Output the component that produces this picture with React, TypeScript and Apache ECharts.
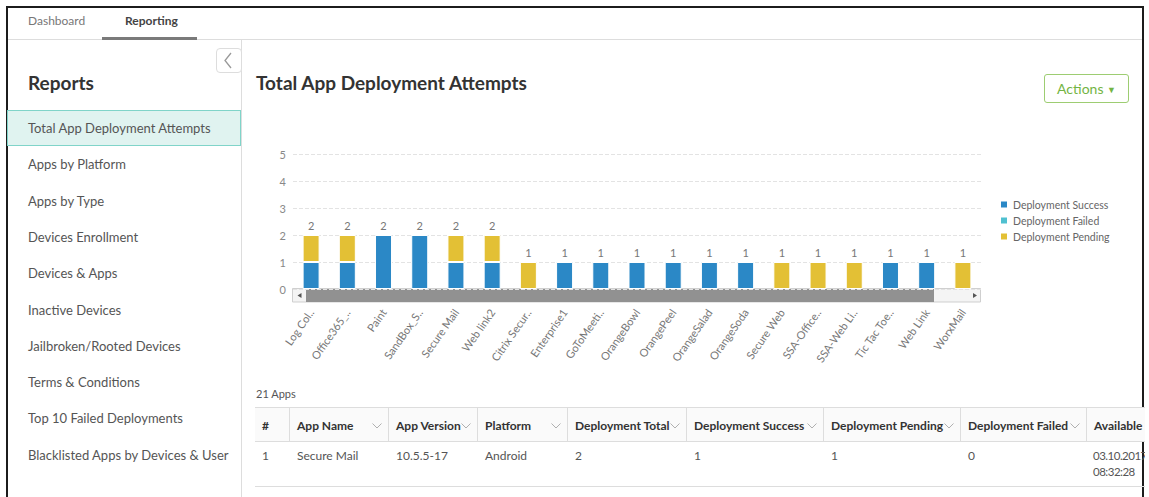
import React, { useEffect, useRef } from "react";
import * as echarts from "echarts";

// ---- chart data ----
const categories = [
  "Log Col..", "Office365_..", "Paint", "SandBox_S..", "Secure Mail", "Web link2",
  "Citrix Secur..", "Enterprise1", "GoToMeeti..", "OrangeBowl", "OrangePeel",
  "OrangeSalad", "OrangeSoda", "Secure Web", "SSA-Office..", "SSA-Web Li..",
  "Tic Tac Toe..", "Web Link", "WorxMail",
];
const successValues = [1, 1, 2, 2, 1, 1, 0, 1, 1, 1, 1, 1, 1, 0, 0, 0, 1, 1, 0];
const failedValues = [0, 0, 0, 0, 0, 0, 0, 0, 0, 0, 0, 0, 0, 0, 0, 0, 0, 0, 0];
const pendingValues = [1, 1, 0, 0, 1, 1, 1, 0, 0, 0, 0, 0, 0, 1, 1, 1, 0, 0, 1];
const seriesNames = ["Deployment Success", "Deployment Failed", "Deployment Pending"];
const yMin = 0;
const yMax = 5;
const yInterval = 1;

// ---- page UI content ----
const tabs = ["Dashboard", "Reporting"];
const reportItems = [
  "Total App Deployment Attempts", "Apps by Platform", "Apps by Type", "Devices Enrollment",
  "Devices & Apps", "Inactive Devices", "Jailbroken/Rooted Devices", "Terms & Conditions",
  "Top 10 Failed Deployments", "Blacklisted Apps by Devices & User",
];
const tableHeaders = ["#", "App Name", "App Version", "Platform", "Deployment Total",
  "Deployment Success", "Deployment Pending", "Deployment Failed", "Available"];
const tableRow1 = ["1", "Secure Mail", "10.5.5-17", "Android", "2", "1", "1", "0", "03.10.2017 08:32:28"];
const colEdges = [255, 289, 388, 477, 567, 686, 823, 960, 1086, 1260];
const appCount = "21 Apps";

const FONT = "Lato, 'Open Sans', sans-serif";

const COLORS = ["#2b88c6", "#4fc0d0", "#e3c035"];

function Chart() {
  const ref = useRef<HTMLDivElement>(null);
  useEffect(() => {
    const chart = echarts.init(ref.current!, null, { renderer: "svg" });
    const toData = (arr: number[]) => arr.map((v) => (v === 0 ? "-" : v));
    const totals = categories.map((_, i) => successValues[i] + failedValues[i] + pendingValues[i]);
    const makeSeries = (name: string, vals: number[], color: string) => ({
      name,
      type: "bar",
      stack: "total",
      barWidth: 17,
      data: toData(vals),
      itemStyle: { color, borderColor: "#ffffff", borderWidth: 1 },
    });
    chart.setOption({
      animation: false,
      textStyle: { fontFamily: FONT },
      grid: { left: 51, top: 44, width: 688, height: 135 },
      legend: {
        orient: "vertical",
        left: 752,
        top: 83,
        data: seriesNames,
        icon: "rect",
        itemWidth: 8,
        itemHeight: 8,
        itemGap: 3,
        textStyle: { color: "#666", fontSize: 10.5, fontFamily: FONT, lineHeight: 13 },
      },
      xAxis: {
        type: "category",
        data: categories,
        axisLine: { show: false },
        axisTick: { show: false },
        axisLabel: { interval: 0, rotate: 55, margin: 21, color: "#777", fontSize: 11, fontFamily: FONT },
      },
      yAxis: {
        type: "value",
        min: yMin,
        max: yMax,
        interval: yInterval,
        axisLine: { show: false },
        axisTick: { show: false },
        axisLabel: { color: "#888", fontSize: 11, margin: 7, fontFamily: FONT },
        splitLine: { lineStyle: { type: "dashed", color: "#e3e3e3" } },
      },
      series: [
        makeSeries(seriesNames[0], successValues, COLORS[0]),
        makeSeries(seriesNames[1], failedValues, COLORS[1]),
        makeSeries(seriesNames[2], pendingValues, COLORS[2]),
        {
          name: "Total",
          type: "bar",
          stack: "total",
          barWidth: 17,
          data: categories.map(() => 0),
          itemStyle: { color: "rgba(0,0,0,0)" },
          label: {
            show: true,
            position: "top",
            distance: 4,
            color: "#777",
            fontSize: 11,
            fontFamily: FONT,
            formatter: (p: any) => String(totals[p.dataIndex]),
          },
        },
      ],
      graphic: [
        {
          type: "group",
          children: [
            { type: "rect", shape: { x: 50.5, y: 178.5, width: 688, height: 13.5 }, style: { fill: "#f4f4f4", stroke: "#cfcfcf", lineWidth: 1 } },
            { type: "rect", shape: { x: 64, y: 179, width: 628, height: 13 }, style: { fill: "#919191" } },
            { type: "polygon", shape: { points: [[55.5, 185.5], [59.5, 183], [59.5, 188]] }, style: { fill: "#555" } },
            { type: "polygon", shape: { points: [[735, 185.5], [731, 183], [731, 188]] }, style: { fill: "#555" } },
          ],
        },
      ],
    });
    return () => chart.dispose();
  }, []);
  return <div ref={ref} style={{ position: "absolute", left: 242, top: 110, width: 901, height: 272 }} />;
}

export default function App() {
  useEffect(() => {
    document.body.style.margin = "0";
  }, []);
  const abs = (o: React.CSSProperties): React.CSSProperties => ({ position: "absolute", ...o });
  const last = tableRow1.length - 1;
  return (
    <div style={{ position: "fixed", left: 0, top: 0, width: 1149, height: 497, overflow: "hidden", background: "#fff", fontFamily: FONT }}>
      {/* outer frame */}
      <div style={abs({ left: 6, top: 6, width: 1134, height: 520, border: "2px solid #1c1c1c" })} />
      {/* tabs */}
      <div style={abs({ left: 8, top: 38.5, width: 1134, height: 1, background: "#dddddd" })} />
      <div style={abs({ left: 28, top: 13, fontSize: 12, color: "#777", lineHeight: "16px" })}>{tabs[0]}</div>
      <div style={abs({ left: 125, top: 13, fontSize: 12, color: "#444", fontWeight: 700, lineHeight: "16px" })}>{tabs[1]}</div>
      <div style={abs({ left: 102, top: 37, width: 95, height: 2.5, background: "#7a7a7a" })} />
      {/* sidebar */}
      <div style={abs({ left: 241, top: 39, width: 1, height: 460, background: "#dddddd" })} />
      <div style={abs({ left: 216, top: 48, width: 26, height: 25, border: "1px solid #dddddd", borderRadius: 4, background: "#fff", boxSizing: "border-box" })}>
        <svg width="26" height="25" style={{ position: "absolute", left: -1, top: -1 }}>
          <polyline points="15,5 9,12.5 15,20" fill="none" stroke="#999" strokeWidth="1.3" />
        </svg>
      </div>
      <div style={abs({ left: 28, top: 71, fontSize: 19, fontWeight: 700, color: "#333", lineHeight: "24px" })}>Reports</div>
      <div style={abs({ left: 7, top: 110, width: 234, height: 36, background: "#e0f3f0", border: "1px solid #80d4c9", boxSizing: "border-box" })} />
      {reportItems.map((t, i) => (
        <div key={t} style={abs({ left: 28, top: 110 + i * 36.3, height: 36, lineHeight: "36px", fontSize: 13, color: "#555", whiteSpace: "nowrap" })}>{t}</div>
      ))}
      {/* title + actions */}
      <div style={abs({ left: 256, top: 71, fontSize: 19, fontWeight: 700, color: "#333", lineHeight: "24px", whiteSpace: "nowrap" })}>Total App Deployment Attempts</div>
      <div style={abs({ left: 1044, top: 74, width: 85, height: 29, border: "1px solid #9dcd72", borderRadius: 3, boxSizing: "border-box", color: "#73b443", fontSize: 14, lineHeight: "27px", textAlign: "center" })}>
        Actions <span style={{ fontSize: 9, position: "relative", top: -1 }}>▼</span>
      </div>
      <Chart />
      {/* table */}
      <div style={abs({ left: 256, top: 387, fontSize: 11, color: "#555", lineHeight: "14px" })}>{appCount}</div>
      <div style={abs({ left: 255, top: 407, width: 900, height: 35, background: "#fafafa", borderTop: "1px solid #dddddd", borderBottom: "1px solid #dddddd", boxSizing: "border-box" })} />
      {tableHeaders.map((h, i) => (
        <React.Fragment key={h}>
          {i > 0 && <div style={abs({ left: colEdges[i], top: 407, width: 1, height: 35, background: "#dddddd" })} />}
          <div style={abs({ left: colEdges[i] + (i === 0 ? 7 : 8), top: 418, fontSize: 12, fontWeight: 700, color: "#333", lineHeight: "16px", whiteSpace: "nowrap" })}>{h}</div>
          {i > 0 && i < tableHeaders.length - 1 && (
            <svg width="10" height="6" style={{ position: "absolute", left: colEdges[i + 1] - 16, top: 423 }}>
              <polyline points="0.5,0.5 5,5 9.5,0.5" fill="none" stroke="#b0b0b0" strokeWidth="1" />
            </svg>
          )}
        </React.Fragment>
      ))}
      {tableRow1.map((c, i) => (
        <div key={i} style={abs({ left: colEdges[i] + (i === 0 ? 7 : 8) - (i === last ? 1 : 0), top: 448, fontSize: i === last ? 11.5 : 12, letterSpacing: i === last ? -0.5 : 0, color: "#555", lineHeight: "16px", width: i === last ? 54 : undefined, whiteSpace: i === last ? "normal" : "nowrap" })}>{c}</div>
      ))}
      <div style={abs({ left: 255, top: 486, width: 900, height: 1, background: "#dddddd" })} />
      {/* clip right side over the frame */}
      <div style={abs({ left: 1145, top: 0, width: 10, height: 497, background: "#fff" })} />
    </div>
  );
}
